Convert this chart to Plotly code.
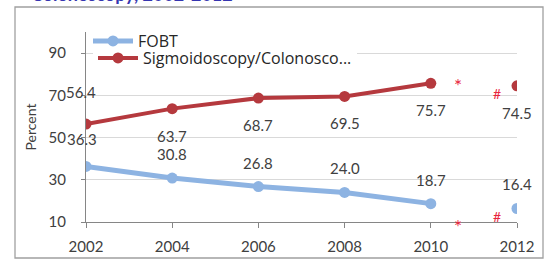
import plotly.graph_objects as go

years = [2002, 2004, 2006, 2008, 2010]
year_2012 = [2012]
fobt = [36.3, 30.8, 26.8, 24.0, 18.7]
fobt_2012 = [16.4]
sigcol = [56.4, 63.7, 68.7, 69.5, 75.7]
sigcol_2012 = [74.5]
x_ticks = [2002, 2004, 2006, 2008, 2010, 2012]
y_ticks = [10, 30, 50, 70, 90]

BLUE = "#8DB3E2"
RED = "#B5393E"
TXT = "#404040"
FONT = "Lato"

# plot area in pixels: x 86..517, y 32..222
L, R, T, B = 86, 517, 32, 222
W, H = 552, 265
def px(xp):
    return (xp - L) / (R - L)
def py(yp):
    return (B - yp) / (B - T)

fig = go.Figure()
fig.add_trace(go.Scatter(x=years, y=sigcol, mode="lines+markers", name="Sigmoidoscopy/Colonosco...",
                         legend="legend",
                         line=dict(color=RED, width=4), marker=dict(size=11, color=RED)))
fig.add_trace(go.Scatter(x=years, y=fobt, mode="lines+markers", name="FOBT", legend="legend2",
                         line=dict(color=BLUE, width=5), marker=dict(size=11, color=BLUE)))
fig.add_trace(go.Scatter(x=year_2012, y=fobt_2012, mode="markers", showlegend=False,
                         marker=dict(size=11, color=BLUE)))
fig.add_trace(go.Scatter(x=year_2012, y=sigcol_2012, mode="markers", showlegend=False,
                         marker=dict(size=11, color=RED)))

ann = []
all_x = years + year_2012
for i, (xv, yv) in enumerate(zip(all_x, fobt + fobt_2012)):
    if i == 0:
        ann.append(dict(x=xv, y=yv, text=f"{yv:.1f}", showarrow=False, xshift=-4, yshift=27))
    else:
        ann.append(dict(x=xv, y=yv, text=f"{yv:.1f}", showarrow=False, yshift=24))
for i, (xv, yv) in enumerate(zip(all_x, sigcol + sigcol_2012)):
    if i == 0:
        ann.append(dict(x=xv, y=yv, text=f"{yv:.1f}", showarrow=False, xshift=-5, yshift=32))
    else:
        ann.append(dict(x=xv, y=yv, text=f"{yv:.1f}", showarrow=False, yshift=-27))
for a in ann:
    a["font"] = dict(family=FONT, size=15, color=TXT)

star_font = dict(family=FONT, size=19, color="#E8243C")
hash_font = dict(family=FONT, size=14, color="#E8243C")
ann += [
    dict(x=2010.63, y=74.5, text="*", showarrow=False, font=star_font),
    dict(x=2010.63, y=10, yshift=-4, text="*", showarrow=False, font=star_font),
    dict(x=2011.53, y=71.0, text="#", showarrow=False, font=hash_font),
    dict(x=2011.53, y=12.6, text="#", showarrow=False, font=hash_font),
    dict(xref="paper", yref="paper", x=px(235), y=py(7),
         xanchor="right", yanchor="bottom", showarrow=False,
         text="<b>Colonoscopy, 2002-2012</b>", font=dict(family=FONT, size=18, color="#3535B0")),
]

fig.add_shape(type="rect", xref="paper", yref="paper",
              x0=px(15), x1=px(543), y0=py(258), y1=py(7),
              line=dict(color="#A0A0A0", width=1.3), layer="above")

leg_font = dict(family="Open Sans", size=16, color="#262626")
fig.update_layout(
    width=W, height=H,
    margin=dict(l=L, r=W - R, t=T, b=H - B),
    paper_bgcolor="white", plot_bgcolor="white",
    font=dict(family=FONT, size=15, color=TXT),
    annotations=ann,
    showlegend=True,
    legend=dict(x=px(93), y=py(41), xanchor="left", yanchor="top",
                bgcolor="white", font=leg_font, itemwidth=40, borderwidth=0),
    legend2=dict(x=px(88), y=py(24), xanchor="left", yanchor="top",
                 bgcolor="rgba(0,0,0,0)", font=leg_font, itemwidth=40, borderwidth=0),
    xaxis=dict(range=[2002, 2012], tickvals=x_ticks, ticktext=[str(v) for v in x_ticks],
               showgrid=False, zeroline=False, showline=True, linecolor="#868686", linewidth=1,
               ticks="outside", ticklen=5, tickcolor="#868686", ticklabelstandoff=6,
               automargin=False,
               tickfont=dict(family=FONT, size=15, color=TXT)),
    yaxis=dict(range=[10, 100], tickvals=y_ticks, showgrid=True, gridcolor="#D9D9D9", gridwidth=1,
               zeroline=False, showline=True, linecolor="#868686", linewidth=1,
               ticks="outside", ticklen=4, tickcolor="#868686", ticklabelstandoff=12,
               automargin=False,
               tickfont=dict(family=FONT, size=15, color=TXT),
               title=dict(text="Percent", font=dict(family=FONT, size=14, color=TXT), standoff=8)),
)

fig.write_html("out.html", config={"displayModeBar": False},
               post_script="document.body.style.margin='0';")
